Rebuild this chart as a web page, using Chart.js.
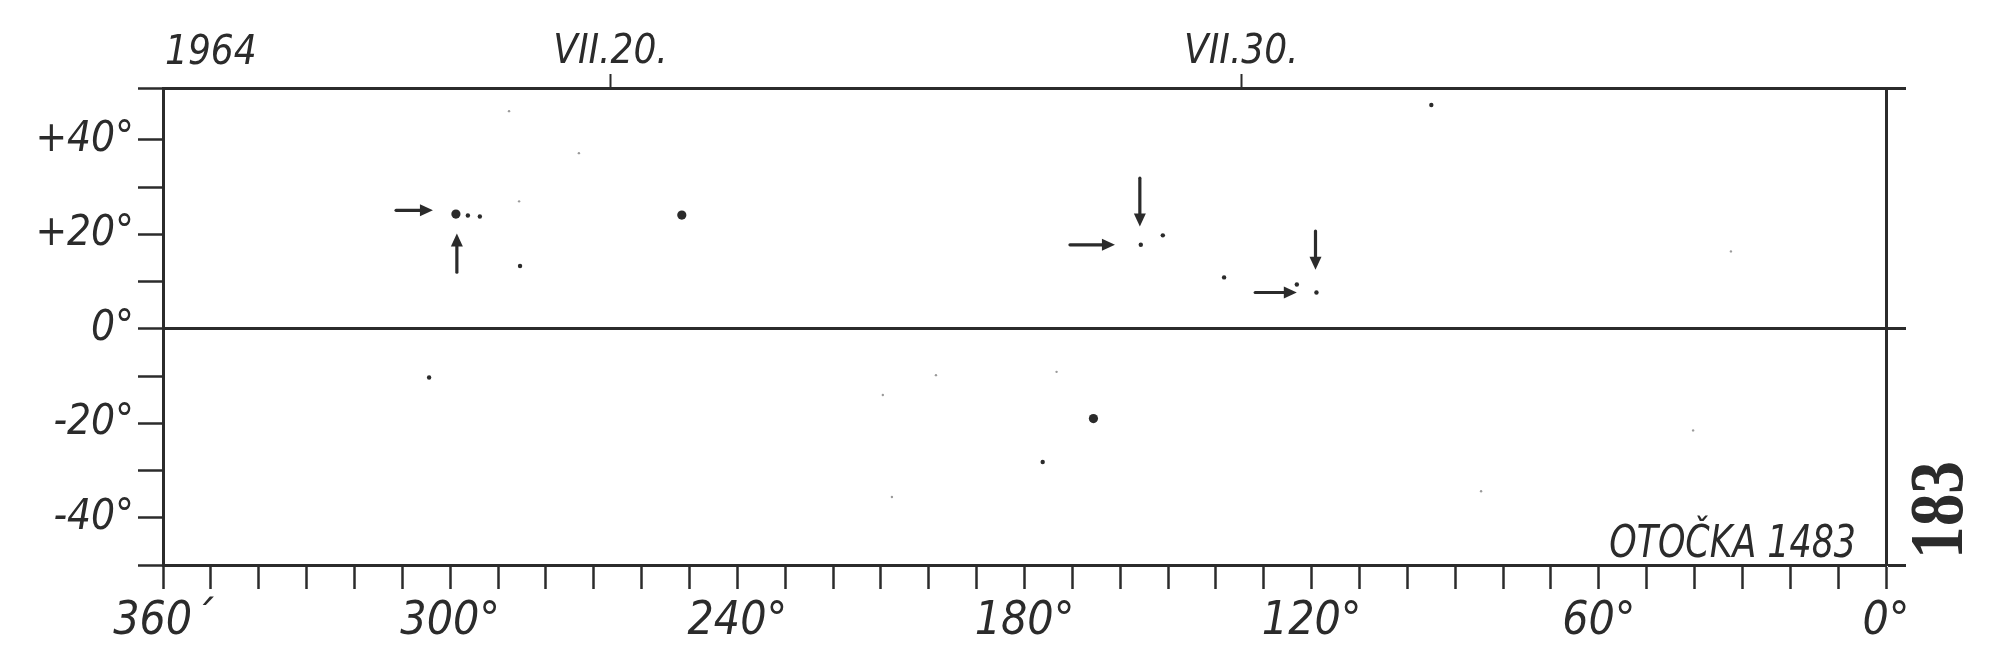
<!DOCTYPE html>
<html>
<head>
<meta charset="utf-8">
<script src="https://cdn.jsdelivr.net/npm/chart.js@4.4.1/dist/chart.umd.min.js"></script>
<style>
  html, body { margin: 0; padding: 0; background: #fff; }
  canvas { display: block; }
</style>
</head>
<body>
<canvas id="otockaChart" width="2000" height="665"></canvas>
<script>
const INK = '#2b2b2b';
const FONT = "'Liberation Sans Narrow', 'DejaVu Sans Condensed', 'Liberation Sans', sans-serif";

// --- Carrington longitude axis (bottom) ---
const lonTicks = [0, 10, 20, 30, 40, 50, 60, 70, 80, 90, 100, 110, 120, 130, 140, 150, 160, 170, 180,
                  190, 200, 210, 220, 230, 240, 250, 260, 270, 280, 290, 300, 310, 320, 330, 340, 350, 360];
const lonLabelValues = [360, 300, 240, 180, 120, 60, 0];
const lonLabelText = ['360´', '300°', '240°', '180°', '120°', '60°', '0°'];

// --- Latitude axis (left) ---
const latTicks = [-50, -40, -30, -20, -10, 0, 10, 20, 30, 40, 51];
const latLabelValues = [40, 20, 0, -20, -40];
const latLabelText = ['+40°', '+20°', '0°', '-20°', '-40°'];

// --- Date axis (top), placed at the longitude of the central meridian ---
const dateTickLon = [266.5, 134.7];
const dateTickText = ['VII.20.', 'VII.30.'];

// --- Observed spots ---
const bigLon = [298.8, 251.6, 165.6];
const bigLat = [24.3, 24.1, -19.0];

const smallLon = [296.3, 293.8, 285.4, 155.7, 151.1, 138.3, 123.1, 119.0, 95.0, 304.4, 176.2];
const smallLat = [24.0, 23.8, 13.3, 17.8, 19.8, 10.9, 9.4, 7.7, 47.4, -10.3, -28.2];

const faintLon = [285.6, 287.7, 273.1, 198.5, 173.3, 209.6, 207.7, 32.4, 40.3, 84.6];
const faintLat = [27.0, 46.1, 37.2, -9.8, -9.1, -14.0, -35.6, 16.4, -21.5, -34.4];

// --- Pointer arrows (start -> tip) ---
const arrowFromLon = [311.3, 298.6, 170.5, 155.9, 131.8, 119.2];
const arrowFromLat = [25.1, 12.0, 17.8, 31.9, 7.7, 20.7];
const arrowToLon = [303.6, 298.6, 161.1, 155.9, 123.1, 119.2];
const arrowToLat = [25.1, 20.2, 17.8, 21.7, 7.7, 12.5];

function toPoints(xs, ys) {
    return xs.map((v, i) => ({ x: v, y: ys[i] }));
}

// arrows, year and plate notes drawn on top of the chart
const annotate = {
    id: 'annotate',
    afterDatasetsDraw(chart) {
        const { ctx, scales } = chart;
        const x = scales.x, y = scales.y;
        ctx.save();
        ctx.strokeStyle = INK;
        ctx.fillStyle = INK;
        ctx.lineWidth = 3.2;
        ctx.lineCap = 'round';
        arrowFromLon.forEach((lon0, i) => {
            const x0 = x.getPixelForValue(lon0), y0 = y.getPixelForValue(arrowFromLat[i]);
            const x1 = x.getPixelForValue(arrowToLon[i]), y1 = y.getPixelForValue(arrowToLat[i]);
            const a = Math.atan2(y1 - y0, x1 - x0);
            const head = 13, half = 6;
            const cos = Math.cos(a), sin = Math.sin(a);
            ctx.beginPath();
            ctx.moveTo(x0, y0);
            ctx.lineTo(x1 - cos * head * 0.7, y1 - sin * head * 0.7);
            ctx.stroke();
            ctx.beginPath();
            ctx.moveTo(x1, y1);
            ctx.lineTo(x1 - cos * head - sin * half, y1 - sin * head + cos * half);
            ctx.lineTo(x1 - cos * head + sin * half, y1 - sin * head - cos * half);
            ctx.closePath();
            ctx.fill();
        });
        ctx.restore();
    },
    afterDraw(chart) {
        const { ctx, chartArea } = chart;
        ctx.save();
        ctx.fillStyle = INK;
        ctx.textBaseline = 'alphabetic';

        ctx.font = `italic 40px ${FONT}`;
        ctx.textAlign = 'left';
        ctx.fillText('1964', chartArea.left + 2, 64);

        // plate label, squeezed like the hand lettering
        ctx.save();
        ctx.translate(chartArea.right - 30, chartArea.bottom - 8);
        ctx.scale(0.88, 1);
        ctx.font = `italic 44px ${FONT}`;
        ctx.textAlign = 'right';
        ctx.fillText('OTOČKA 1483', 0, 0);
        ctx.restore();

        // page number, turned sideways
        ctx.translate(chartArea.right + 54, 510);
        ctx.rotate(-Math.PI / 2);
        ctx.scale(0.86, 1);
        ctx.font = `bold 76px 'Liberation Serif', 'DejaVu Serif', serif`;
        ctx.textAlign = 'center';
        ctx.textBaseline = 'middle';
        ctx.fillText('183', 0, 2);
        ctx.restore();
    }
};

new Chart(document.getElementById('otockaChart'), {
    type: 'scatter',
    data: {
        datasets: [
            {
                label: 'large spots',
                data: toPoints(bigLon, bigLat),
                pointRadius: 4.6,
                pointBackgroundColor: INK,
                pointBorderWidth: 0,
                xAxisID: 'x', yAxisID: 'y'
            },
            {
                label: 'small spots',
                data: toPoints(smallLon, smallLat),
                pointRadius: 2.2,
                pointBackgroundColor: INK,
                pointBorderWidth: 0,
                xAxisID: 'x', yAxisID: 'y'
            },
            {
                label: 'faint spots',
                data: toPoints(faintLon, faintLat),
                pointRadius: 1.2,
                pointBackgroundColor: '#9a9a9a',
                pointBorderWidth: 0,
                xAxisID: 'x', yAxisID: 'y'
            }
        ]
    },
    options: {
        responsive: false,
        animation: false,
        layout: { padding: 0 },
        plugins: {
            legend: { display: false },
            tooltip: { enabled: false }
        },
        scales: {
            x: {
                type: 'linear',
                position: 'bottom',
                reverse: true,
                min: 0,
                max: 360,
                afterBuildTicks: s => { s.ticks = lonTicks.map(v => ({ value: v })); },
                afterFit: s => { s.height = 100; },
                grid: { drawOnChartArea: false, drawTicks: true, tickLength: 24, tickWidth: 2.5, tickColor: INK },
                border: { display: true, color: INK, width: 3 },
                ticks: {
                    autoSkip: false,
                    maxRotation: 0,
                    padding: 5,
                    color: INK,
                    font: { family: FONT, size: 46, style: 'italic' },
                    callback: v => {
                        const i = lonLabelValues.indexOf(v);
                        return i >= 0 ? lonLabelText[i] : '';
                    }
                }
            },
            x2: {
                type: 'linear',
                position: 'top',
                reverse: true,
                min: 0,
                max: 360,
                afterBuildTicks: s => { s.ticks = dateTickLon.map(v => ({ value: v })); },
                afterFit: s => { s.height = 88; },
                grid: { drawOnChartArea: false, drawTicks: true, tickLength: 14, tickWidth: 2, tickColor: INK },
                border: { display: true, color: INK, width: 3 },
                ticks: {
                    autoSkip: false,
                    maxRotation: 0,
                    padding: -3,
                    color: INK,
                    font: { family: FONT, size: 40, style: 'italic' },
                    callback: v => {
                        const i = dateTickLon.indexOf(v);
                        return i >= 0 ? dateTickText[i] : '';
                    }
                }
            },
            y: {
                type: 'linear',
                position: 'left',
                min: -50,
                max: 51,
                afterBuildTicks: s => { s.ticks = latTicks.map(v => ({ value: v })); },
                afterFit: s => { s.width = 163; },
                grid: {
                    drawOnChartArea: true,
                    color: c => (c.tick && c.tick.value === 0) ? INK : 'rgba(0,0,0,0)',
                    lineWidth: c => (c.tick && c.tick.value === 0) ? 3 : 1,
                    tickColor: INK,
                    tickLength: 25,
                    tickWidth: 2.5
                },
                border: { display: true, color: INK, width: 3 },
                ticks: {
                    autoSkip: false,
                    padding: 4,
                    color: INK,
                    font: { family: FONT, size: 42, style: 'italic' },
                    callback: v => {
                        const i = latLabelValues.indexOf(v);
                        return i >= 0 ? latLabelText[i] : '';
                    }
                }
            },
            y2: {
                type: 'linear',
                position: 'right',
                min: -50,
                max: 51,
                afterBuildTicks: s => { s.ticks = [-50, 0, 51].map(v => ({ value: v })); },
                afterFit: s => { s.width = 114; },
                grid: { drawOnChartArea: false, drawTicks: true, tickLength: 20, tickWidth: 3, tickColor: INK },
                border: { display: true, color: INK, width: 3 },
                ticks: { display: false }
            }
        }
    },
    plugins: [annotate]
});
</script>
</body>
</html>
